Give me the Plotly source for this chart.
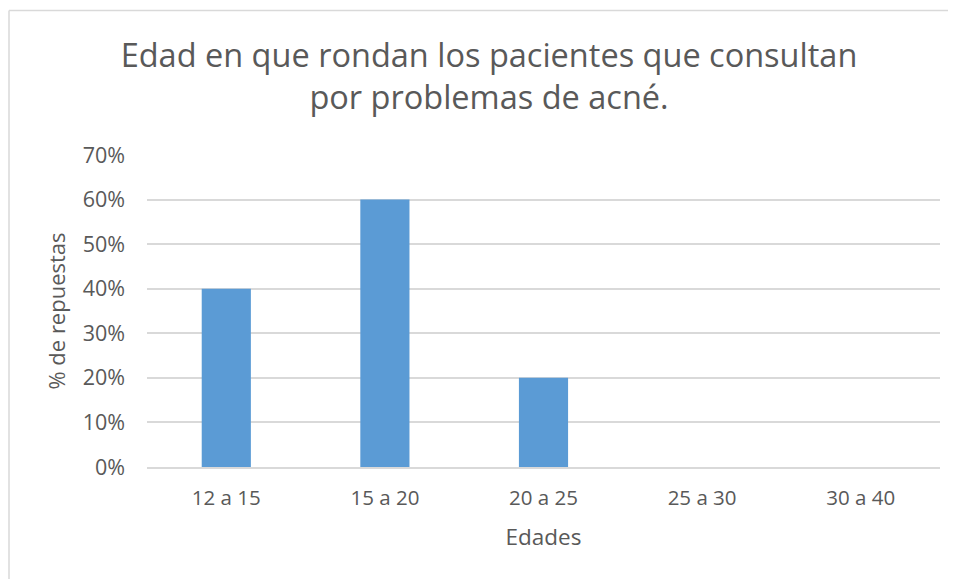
import plotly.graph_objects as go

categories = ["12 a 15", "15 a 20", "20 a 25", "25 a 30", "30 a 40"]
values = [0.40, 0.60, 0.20, 0.0, 0.0]
y_ticks = [0, 0.1, 0.2, 0.3, 0.4, 0.5, 0.6, 0.7]
y_tick_labels = ["0%", "10%", "20%", "30%", "40%", "50%", "60%", "70%"]

TEXT = "#595959"
GRID = "#D9D9D9"
FONT = "Open Sans"

# the page body has an 8px margin, so work in figure coordinates = screen - 8
OFF = 8
W, H = 956, 579 - OFF
L, T = 147 - OFF, 155 - OFF
R = W - (940 - OFF)
B = H - (467 - OFF)
pw, ph = W - L - R, H - T - B

def px_x(p):
    return (p - OFF - L) / pw

def px_y(p):
    return (H - B - (p - OFF)) / ph

fig = go.Figure(go.Bar(
    x=categories, y=values,
    marker=dict(color="#5B9BD5", line=dict(width=0)),
    width=0.31,
))

fig.update_layout(
    width=W, height=H,
    margin=dict(l=L, r=R, t=T, b=B),
    paper_bgcolor="white", plot_bgcolor="white",
    font=dict(family=FONT, color=TEXT),
    showlegend=False,
    title=dict(
        text="Edad en que rondan los pacientes que consultan<br>por problemas de acné.",
        font=dict(size=32.5, color=TEXT, family=FONT),
        xref="container", x=(489 - OFF) / W, xanchor="center",
        yref="container", y=1 - 59 / H, yanchor="top",
    ),
    xaxis=dict(
        showgrid=False, showline=True, linecolor=GRID, linewidth=1.5,
        ticks="", tickfont=dict(size=20.5, color=TEXT),
        ticklabelstandoff=12,
        title=dict(text="Edades", font=dict(size=22.5, color=TEXT), standoff=19),
    ),
    yaxis=dict(
        range=[0, 0.7], tickvals=y_ticks, ticktext=y_tick_labels,
        showgrid=True, gridcolor=GRID, gridwidth=1.5,
        zeroline=False, showline=False, ticks="",
        tickfont=dict(size=21.5, color=TEXT),
        ticklabelstandoff=21,
        title=dict(text="% de repuestas", font=dict(size=22, color=TEXT), standoff=10),
    ),
    shapes=[
        dict(type="line", xref="paper", yref="paper",
             x0=px_x(9), x1=px_x(9), y0=px_y(600), y1=px_y(10.5),
             line=dict(color=GRID, width=1.5)),
        dict(type="line", xref="paper", yref="paper",
             x0=px_x(9), x1=px_x(980), y0=px_y(10.5), y1=px_y(10.5),
             line=dict(color=GRID, width=1.5)),
    ],
)

fig.write_html("out.html")
